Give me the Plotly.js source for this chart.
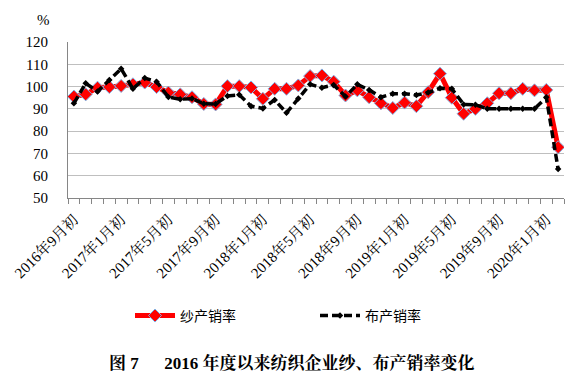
<!DOCTYPE html>
<html>
<head>
<meta charset="utf-8">
<script src="https://cdn.plot.ly/plotly-3.0.1.min.js"></script>
<style>html,body{margin:0;padding:0;background:#fff;}#chart{width:577px;height:385px;}</style>
</head>
<body>
<div id="chart"></div>
<script>
const categories = [
  "2016年9月初","2016年10月初","2016年11月初","2016年12月初",
  "2017年1月初","2017年2月初","2017年3月初","2017年4月初","2017年5月初","2017年6月初",
  "2017年7月初","2017年8月初","2017年9月初","2017年10月初","2017年11月初","2017年12月初",
  "2018年1月初","2018年2月初","2018年3月初","2018年4月初","2018年5月初","2018年6月初",
  "2018年7月初","2018年8月初","2018年9月初","2018年10月初","2018年11月初","2018年12月初",
  "2019年1月初","2019年2月初","2019年3月初","2019年4月初","2019年5月初","2019年6月初",
  "2019年7月初","2019年8月初","2019年9月初","2019年10月初","2019年11月初","2019年12月初",
  "2020年1月初","2020年2月初"
];
const tickLabels = ["2016年9月初","2017年1月初","2017年5月初","2017年9月初","2018年1月初","2018年5月初",
  "2018年9月初","2019年1月初","2019年5月初","2019年9月初","2020年1月初"];
const yarnRate = [
  95.5, 96.5, 99.5, 99.8, 100.3, 101.0, 101.8, 99.8, 97.3, 96.5,
  95.2, 92.2, 92.0, 100.2, 100.2, 99.6, 94.5, 99.0, 99.0, 100.5,
  104.7, 105.0, 102.2, 96.0, 98.3, 95.2, 92.5, 90.4, 92.8, 91.2,
  97.5, 105.8, 95.0, 87.8, 90.0, 92.5, 97.0, 97.0, 99.0, 98.3,
  98.5, 72.8
];
const clothRate = [
  92.5, 101.5, 97.8, 103.0, 108.0, 99.0, 103.8, 102.2, 95.3, 94.3,
  94.6, 92.3, 92.2, 95.8, 96.3, 91.2, 90.2, 94.0, 88.2, 94.6,
  101.0, 99.5, 100.7, 95.5, 101.0, 98.5, 95.2, 96.8, 96.8, 96.2,
  97.3, 99.2, 99.0, 92.0, 91.8, 90.0, 90.0, 90.0, 90.0, 90.0,
  95.2, 63.0
];
const seriesNames = ["纱产销率", "布产销率"];
const yTicks = [50, 60, 70, 80, 90, 100, 110, 120];

const serif = "'Liberation Serif', 'Times New Roman', 'Noto Serif CJK SC', 'Noto Sans CJK SC', serif";
const sans = "'Noto Sans CJK SC', 'Liberation Sans', sans-serif";

const traces = [
  {
    x: categories, y: yarnRate, name: seriesNames[0], type: "scatter", mode: "lines+markers",
    line: {color: "#ff0000", width: 5},
    marker: {symbol: "diamond", size: 10, color: "#ff0000", line: {color: "#7fb2e5", width: 1}}
  },
  {
    x: categories, y: clothRate, name: seriesNames[1], type: "scatter", mode: "lines+markers",
    line: {color: "#000000", width: 3.5, dash: "8px,4px"},
    marker: {symbol: "diamond", size: 5, color: "#000000"}
  }
];

const tickText = categories.map(c => tickLabels.includes(c) ? c : "");

const layout = {
  width: 577, height: 385,
  margin: {l: 68, r: 13, t: 42, b: 187},
  paper_bgcolor: "#ffffff", plot_bgcolor: "#ffffff",
  showlegend: true,
  legend: {
    orientation: "h", x: 0.125, xanchor: "left", y: -0.756, yanchor: "middle",
    font: {family: sans, size: 14, color: "#000"},
    entrywidth: 130, entrywidthmode: "pixels", itemwidth: 40,
    bgcolor: "rgba(0,0,0,0)"
  },
  xaxis: {
    type: "category", categoryorder: "array", categoryarray: categories,
    tickmode: "array", tickvals: categories, ticktext: tickText,
    tickson: "boundaries", ticks: "outside", ticklen: 5, tickcolor: "#868686",
    tickangle: -45, tickfont: {family: serif, size: 15, color: "#000"}, ticklabelstandoff: 6,
    showline: true, linecolor: "#868686", linewidth: 1, showgrid: false, zeroline: false,
    range: [-0.5, categories.length - 0.5], fixedrange: true
  },
  yaxis: {
    range: [50, 120], tickmode: "array", tickvals: yTicks,
    ticks: "", ticklabelstandoff: 16,
    tickfont: {family: serif, size: 15, color: "#000"},
    showline: true, linecolor: "#868686", linewidth: 1,
    showgrid: true, gridcolor: "#bfbfbf", gridwidth: 1, zeroline: false, fixedrange: true
  },
  annotations: [
    {text: "%", xref: "paper", yref: "paper", x: -0.05, y: 1.141, xanchor: "center", yanchor: "middle",
     showarrow: false, font: {family: serif, size: 15, color: "#000"}},
    {text: "<b>图 7　  2016 年度以来纺织企业纱、布产销率变化</b>", xref: "paper", yref: "paper",
     x: 0.452, y: -1.058, xanchor: "center", yanchor: "middle", showarrow: false,
     font: {family: serif, size: 17, color: "#000"}}
  ]
};

Plotly.newPlot("chart", traces, layout, {displayModeBar: false, staticPlot: true});
</script>
</body>
</html>
